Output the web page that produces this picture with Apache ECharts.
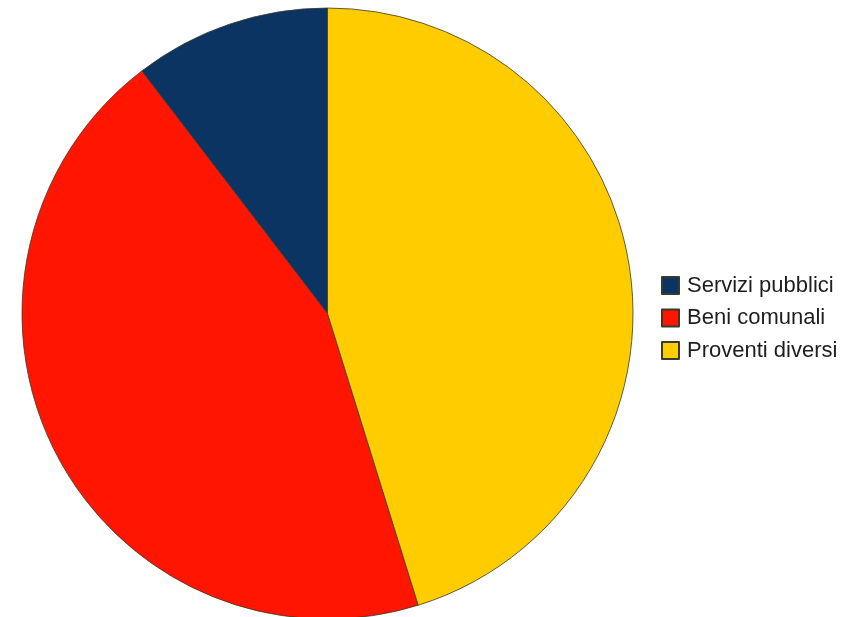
<!DOCTYPE html>
<html><head><meta charset="utf-8">
<script src="https://cdn.jsdelivr.net/npm/echarts@6/dist/echarts.min.js"></script>
<style>html,body{margin:0;padding:0;background:#fff}#c{width:855px;height:617px}</style>
</head><body><div id="c"></div>
<script>
const categories = ["Servizi pubblici", "Beni comunali", "Proventi diversi"];
const values = [10.4, 44.4, 45.2];
const colors = ["#0b3463", "#ff1500", "#ffcc00"];

const chart = echarts.init(document.getElementById('c'), null, {renderer: 'canvas'});
chart.setOption({
  animation: false,
  legend: {
    orient: 'vertical',
    left: 656,
    top: 269.5,
    icon: 'rect',
    itemWidth: 17,
    itemHeight: 17,
    itemGap: 10.5,
    data: categories,
    textStyle: {fontFamily: 'Liberation Sans', fontSize: 22, color: '#1e1e1e', padding: [0,0,0,3]}
  },
  series: [{
    type: 'pie',
    center: [327.5, 313.5],
    radius: 305.5,
    startAngle: 90,
    clockwise: false,
    label: {show: false},
    labelLine: {show: false},
    itemStyle: {borderColor: '#3a3a2a', borderWidth: 0.8},
    emphasis: {disabled: true},
    data: categories.map((n, i) => ({name: n, value: values[i], itemStyle: {color: colors[i]}}))
  }]
});
</script></body></html>
